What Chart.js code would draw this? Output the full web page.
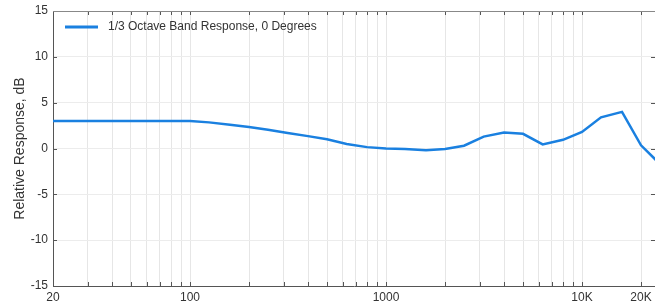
<!DOCTYPE html>
<html>
<head>
<meta charset="utf-8">
<script src="https://cdn.jsdelivr.net/npm/chart.js@4.4.1/dist/chart.umd.min.js"></script>
<style>
  html, body { margin: 0; padding: 0; background: #fff; }
  #wrap { width: 655px; height: 305px; position: relative; }
</style>
</head>
<body>
<div id="wrap"><canvas id="chart"></canvas></div>
<script>
// 1/3 octave band centres (Hz) and response (dB)
const FREQS = [20, 25, 31.5, 40, 50, 63, 80, 100, 125, 160, 200, 250, 315, 400, 500, 630, 800,
  1000, 1250, 1600, 2000, 2500, 3150, 4000, 5000, 6300, 8000, 10000, 12500, 16000, 20000, 25000];
const RESPONSE = [3.0, 3.0, 3.0, 3.0, 3.0, 3.0, 3.0, 3.0, 2.85, 2.6, 2.35, 2.05, 1.7, 1.35, 1.0, 0.5, 0.15,
  0.0, -0.05, -0.2, -0.05, 0.3, 1.3, 1.75, 1.6, 0.45, 0.95, 1.8, 3.4, 4.0, 0.35, -1.7];

const SERIES_LABEL = '1/3 Octave Band Response, 0 Degrees';
const X_TICKS = [20, 30, 40, 50, 60, 70, 80, 90, 100, 200, 300, 400, 500, 600, 700, 800, 900,
  1000, 2000, 3000, 4000, 5000, 6000, 7000, 8000, 9000, 10000, 20000];
const X_LABELS = { 20: '20', 100: '100', 1000: '1000', 10000: '10K', 20000: '20K' };
const Y_MIN = -15, Y_MAX = 15, Y_STEP = 5;

const BLUE = '#1a80e0';
const FONT = 'Arial, "Liberation Sans", sans-serif';

// inward tick marks on all four sides + top border + legend box
const frame = {
  id: 'frame',
  afterDraw(chart) {
    const { ctx, chartArea: a, scales: { x, y } } = chart;
    ctx.save();
    ctx.strokeStyle = '#555';
    ctx.lineWidth = 1;
    ctx.beginPath();
    X_TICKS.forEach(v => {
      const px = Math.round(x.getPixelForValue(v)) + 0.5;
      ctx.moveTo(px, a.bottom); ctx.lineTo(px, a.bottom - 4);
      ctx.moveTo(px, a.top);    ctx.lineTo(px, a.top + 4);
    });
    for (let v = Y_MIN; v <= Y_MAX; v += Y_STEP) {
      const py = Math.round(y.getPixelForValue(v)) + 0.5;
      ctx.moveTo(a.left, py);  ctx.lineTo(a.left + 4, py);
      ctx.moveTo(a.right, py); ctx.lineTo(a.right - 4, py);
    }
    ctx.stroke();

    ctx.strokeStyle = '#888';
    ctx.beginPath();
    ctx.moveTo(a.left, a.top + 0.5); ctx.lineTo(a.right, a.top + 0.5);
    ctx.stroke();

    // legend
    ctx.strokeStyle = BLUE;
    ctx.lineWidth = 3;
    ctx.beginPath();
    ctx.moveTo(65, 27); ctx.lineTo(98, 27);
    ctx.stroke();
    ctx.fillStyle = '#333';
    ctx.font = '12px ' + FONT;
    ctx.textBaseline = 'middle';
    ctx.fillText(chart.data.datasets[0].label, 108, 27);
    ctx.restore();
  }
};

new Chart(document.getElementById('chart'), {
  type: 'line',
  data: {
    datasets: [{
      label: SERIES_LABEL,
      data: FREQS.map((f, i) => ({ x: f, y: RESPONSE[i] })),
      borderColor: BLUE,
      borderWidth: 2.5,
      pointRadius: 0,
      tension: 0,
      fill: false,
    }],
  },
  options: {
    responsive: true, maintainAspectRatio: false, animation: false,
    layout: { padding: { top: 11, left: 0, right: 0, bottom: 0 } },
    plugins: { legend: { display: false }, tooltip: { enabled: false } },
    scales: {
      x: {
        type: 'logarithmic', min: 20, max: 23570,
        afterBuildTicks: s => { s.ticks = X_TICKS.map(v => ({ value: v })); },
        afterFit: s => { s.height = 19; s.paddingLeft = 0; s.paddingRight = 0; },
        ticks: {
          autoSkip: false, maxRotation: 0, padding: 4, color: '#333',
          font: { family: FONT, size: 12 },
          callback: v => X_LABELS[v] ?? '',
        },
        grid: { color: '#e6e6e6', drawTicks: false },
        border: { color: '#555' },
      },
      y: {
        min: Y_MIN, max: Y_MAX,
        afterBuildTicks: s => {
          const t = [];
          for (let v = Y_MIN; v <= Y_MAX; v += Y_STEP) t.push({ value: v });
          s.ticks = t;
        },
        afterFit: s => { s.width = 53; s.paddingTop = 0; s.paddingBottom = 0; },
        ticks: { padding: 5, color: '#333', font: { family: FONT, size: 12 } },
        grid: { color: '#ececec', drawTicks: false },
        border: { color: '#555' },
        title: {
          display: true, text: 'Relative Response, dB', color: '#333',
          font: { family: FONT, size: 14 }, padding: { top: 11.5, bottom: 0 },
        },
      },
    },
  },
  plugins: [frame],
});
</script>
</body>
</html>
